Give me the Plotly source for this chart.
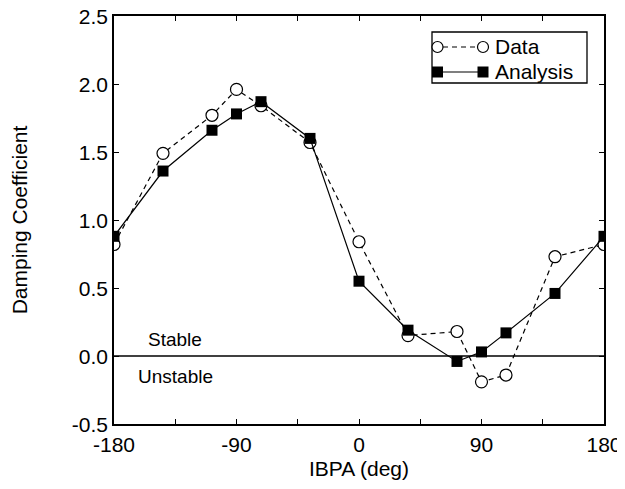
import plotly.graph_objects as go

ibpa = [-180, -144, -108, -90, -72, -36, 0, 36, 72, 90, 108, 144, 180]
data_vals = [0.82, 1.49, 1.77, 1.96, 1.84, 1.57, 0.84, 0.15, 0.18, -0.19, -0.14, 0.73, 0.82]
analysis_vals = [0.88, 1.36, 1.66, 1.78, 1.87, 1.60, 0.55, 0.19, -0.04, 0.03, 0.17, 0.46, 0.88]
x_ticks = [-180, -90, 0, 90, 180]
y_ticks = [-0.5, 0.0, 0.5, 1.0, 1.5, 2.0, 2.5]

FONT = "Liberation Sans, Arial, sans-serif"
FS = 21

# page body has an 8px margin: the figure is sized and laid out to compensate
OFF = 8
W, H = 625 - OFF, 489 - 2 * OFF - 1
L, R, T, B = 114 - OFF, 604 - OFF, 16 - OFF, 424 - OFF

fig = go.Figure()
# zero line
fig.add_trace(go.Scatter(x=[-180, 180], y=[0, 0], mode="lines",
                         line=dict(color="black", width=1.3), showlegend=False, hoverinfo="skip"))
fig.add_trace(go.Scatter(x=ibpa, y=data_vals, mode="lines+markers", name="Data",
                         line=dict(color="black", width=1.2, dash="5px,4px"),
                         marker=dict(symbol="circle", size=12, color="white",
                                     line=dict(color="black", width=1.2)),
                         showlegend=False))
fig.add_trace(go.Scatter(x=ibpa, y=analysis_vals, mode="lines+markers", name="Analysis",
                         line=dict(color="black", width=1.2),
                         marker=dict(symbol="square", size=11, color="black",
                                     line=dict(color="black", width=0)),
                         showlegend=False))

fig.add_annotation(x=-135, y=0.12, text="Stable", showarrow=False,
                   font=dict(family=FONT, size=19, color="black"))
fig.add_annotation(x=-135, y=-0.15, text="Unstable", showarrow=False,
                   font=dict(family=FONT, size=19, color="black"))

# custom legend (paper coordinates, given in reference pixel positions)
def px(x):
    return (x - OFF - L) / (R - L)
def py(y):
    return (B - (y - OFF)) / (B - T)

shapes = []
shapes.append(dict(type="rect", xref="paper", yref="paper",
                   x0=px(432), x1=px(587), y0=py(83), y1=py(32),
                   line=dict(color="black", width=1.3), fillcolor="white", layer="above"))
# Data row
yd = 47
shapes.append(dict(type="line", xref="paper", yref="paper", x0=px(443), x1=px(477),
                   y0=py(yd), y1=py(yd), line=dict(color="black", width=1.2, dash="5px,4px"), layer="above"))
for cx in (437.5, 483):
    shapes.append(dict(type="circle", xref="paper", yref="paper",
                       x0=px(cx - 5.5), x1=px(cx + 5.5), y0=py(yd + 5.5), y1=py(yd - 5.5),
                       line=dict(color="black", width=1.2), fillcolor="white", layer="above"))
# Analysis row
ya = 72
shapes.append(dict(type="line", xref="paper", yref="paper", x0=px(437), x1=px(483),
                   y0=py(ya), y1=py(ya), line=dict(color="black", width=1.2), layer="above"))
for cx in (437.5, 483):
    shapes.append(dict(type="rect", xref="paper", yref="paper",
                       x0=px(cx - 5.5), x1=px(cx + 5.5), y0=py(ya + 5.5), y1=py(ya - 5.5),
                       line=dict(color="black", width=0), fillcolor="black", layer="above"))
fig.add_annotation(xref="paper", yref="paper", x=px(493), y=py(yd), text="Data", showarrow=False,
                   xanchor="left", yanchor="middle", font=dict(family=FONT, size=FS, color="black"))
fig.add_annotation(xref="paper", yref="paper", x=px(493), y=py(ya), text="Analysis", showarrow=False,
                   xanchor="left", yanchor="middle", font=dict(family=FONT, size=FS, color="black"))

fig.update_layout(
    width=W, height=H,
    margin=dict(l=L, r=W - R, t=T, b=H - B, autoexpand=False),
    paper_bgcolor="white", plot_bgcolor="white",
    font=dict(family=FONT, size=FS, color="black"),
    shapes=shapes,
    showlegend=False,
)
fig.update_xaxes(range=[-180, 180], tickvals=x_ticks, ticktext=[str(v) for v in x_ticks],
                 showgrid=False, zeroline=False, showline=True, linecolor="black", linewidth=1.5,
                 mirror="ticks", ticks="inside", ticklen=5, tickwidth=1.3, tickcolor="black",
                 minor=dict(tickvals=[-135, -45, 45, 135], ticks="inside", ticklen=5,
                            tickwidth=1.3, tickcolor="black", showgrid=False),
                 automargin=False, ticklabeloverflow="allow", ticklabelstandoff=1,
                 title=dict(text="IBPA (deg)", font=dict(family=FONT, size=FS), standoff=8),
                 tickfont=dict(family=FONT, size=FS))
fig.update_yaxes(range=[-0.5, 2.5], tickvals=y_ticks, ticktext=[f"{v:.1f}" for v in y_ticks],
                 showgrid=False, zeroline=False, showline=True, linecolor="black", linewidth=1.5,
                 mirror="ticks", ticks="inside", ticklen=5, tickwidth=1.3, tickcolor="black",
                 automargin=False, ticklabeloverflow="allow", ticklabelshift=1,
                 title=dict(text="Damping Coefficient", font=dict(family=FONT, size=FS), standoff=50),
                 tickfont=dict(family=FONT, size=FS))

fig.write_html("out.html")
